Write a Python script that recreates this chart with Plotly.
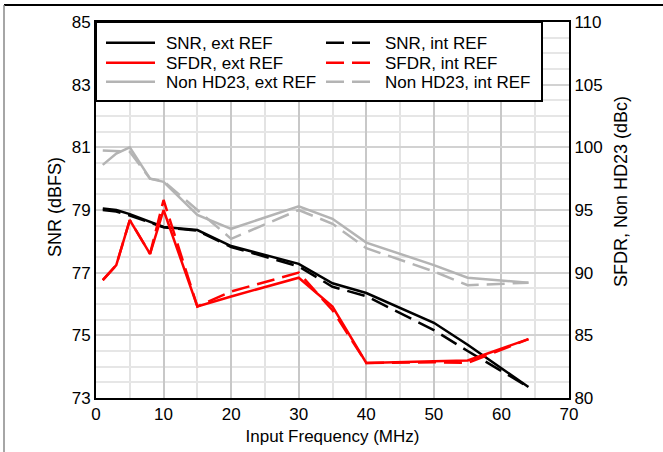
import plotly.graph_objects as go

# Input frequency (MHz)
freq = [1, 3, 5, 8, 10, 15, 20, 30, 35, 40, 50, 55, 64]

# SNR (dBFS), left axis
snr_ext = [79.05, 79.0, 78.87, 78.63, 78.46, 78.36, 77.85, 77.28, 76.66, 76.35, 75.4, 74.7, 73.35]
snr_int = [79.0, 78.95, 78.82, 78.6, 78.45, 78.34, 77.82, 77.2, 76.55, 76.25, 75.17, 74.5, 73.35]

# SFDR / Non HD23 (dBc), right axis
sfdr_ext = [89.4, 90.6, 94.2, 91.5, 95.0, 87.3, 88.1, 89.6, 87.3, 82.8, 82.93, 83.0, 84.7]
sfdr_int = [89.4, 90.6, 94.2, 91.5, 95.8, 87.3, 88.5, 90.0, 87.0, 82.8, 82.85, 82.8, 84.7]
nonhd23_ext = [98.6, 99.5, 100.0, 97.5, 97.25, 94.6, 93.5, 95.3, 94.3, 92.4, 90.6, 89.6, 89.2]
nonhd23_int = [99.75, 99.7, 99.65, 97.5, 97.3, 95.0, 92.7, 95.0, 93.9, 91.95, 90.1, 89.0, 89.2]

GRAY = "#b4b4b4"
DASH = "18px,8px"
FONT = "Liberation Sans, Arial, sans-serif"

# plot area in pixels (used to place the hand-drawn legend)
L, R, T, B = 96, 569, 22, 398
W, H = 663, 452


def px(x):
    return (x - L) / (R - L)


def py(y):
    return (B - y) / (B - T)


fig = go.Figure()

series = [
    ("SNR, ext REF", snr_ext, "black", "solid", "y"),
    ("SNR, int REF", snr_int, "black", DASH, "y"),
    ("SFDR, ext REF", sfdr_ext, "red", "solid", "y2"),
    ("SFDR, int REF", sfdr_int, "red", DASH, "y2"),
    ("Non HD23, ext REF", nonhd23_ext, GRAY, "solid", "y2"),
    ("Non HD23, int REF", nonhd23_int, GRAY, DASH, "y2"),
]
for name, vals, color, dash, axis in series:
    fig.add_trace(go.Scatter(
        x=freq, y=vals, name=name, mode="lines", yaxis=axis,
        line=dict(color=color, width=2.5, dash=dash), showlegend=False,
    ))

fig.update_layout(
    width=W, height=H,
    margin=dict(l=L, r=W - R, t=T, b=H - B),
    paper_bgcolor="white", plot_bgcolor="white",
    font=dict(family=FONT, size=17, color="black"),
    showlegend=False,
    xaxis=dict(
        range=[0, 70], dtick=10, tick0=0, automargin=False,
        showgrid=True, gridcolor="#c8c8c8", gridwidth=1.5,
        minor=dict(dtick=5, showgrid=True, gridcolor="#e3e3e3", gridwidth=1.5),
        showline=True, linecolor="black", linewidth=2, mirror=True,
        zeroline=False, ticks="",
        title=dict(text="Input Frequency (MHz)", font=dict(size=17), standoff=7),
    ),
    yaxis=dict(
        range=[73, 85], dtick=2, tick0=73, automargin=False,
        showgrid=True, gridcolor="#d2d2d2", gridwidth=1.5,
        minor=dict(dtick=0.5, showgrid=True, gridcolor="#e6e6e6", gridwidth=1.5),
        showline=True, linecolor="black", linewidth=2, mirror=True,
        zeroline=False, ticks="",
    ),
    yaxis2=dict(
        range=[80, 110], dtick=5, tick0=80, overlaying="y", side="right",
        automargin=False, showgrid=False, zeroline=False, ticks="",
        showline=True, linecolor="black", linewidth=2,
    ),
)

# axis titles
fig.add_annotation(text="SNR (dBFS)", xref="paper", yref="paper", x=px(43), y=py(207),
                   textangle=-90, showarrow=False, font=dict(size=18))
fig.add_annotation(text="SFDR, Non HD23 (dBc)", xref="paper", yref="paper", x=px(633), y=py(192),
                   textangle=-90, showarrow=False, font=dict(size=18))

# legend box
fig.add_shape(type="rect", xref="paper", yref="paper", x0=0, x1=px(542), y0=py(101), y1=1,
              fillcolor="white", line=dict(color="black", width=2), layer="above")
legend_rows = [42.7, 62.7, 81.7]
legend_cols = [(106, 155, 164), (326, 374, 383)]
for i, (name, vals, color, dash, axis) in enumerate(series):
    row, col = legend_rows[i // 2], legend_cols[i % 2]
    fig.add_shape(type="line", xref="paper", yref="paper", x0=px(col[0]), x1=px(col[1]),
                  y0=py(row), y1=py(row), line=dict(color=color, width=2.5, dash=dash), layer="above")
    fig.add_annotation(text=name, xref="paper", yref="paper", x=px(col[2]), y=py(row + 1),
                       xanchor="left", yanchor="middle", showarrow=False, font=dict(size=17))

# page frame of the source document
fig.add_shape(type="line", xref="paper", yref="paper", x0=px(4), x1=px(W + 5), y0=py(5), y1=py(5),
              line=dict(color="black", width=2))
fig.add_shape(type="line", xref="paper", yref="paper", x0=px(4), x1=px(4), y0=py(5), y1=py(H + 5),
              line=dict(color="#888888", width=1.5))

fig.write_html("out.html", config={"displayModeBar": False},
               post_script="document.body.style.margin='0';")
